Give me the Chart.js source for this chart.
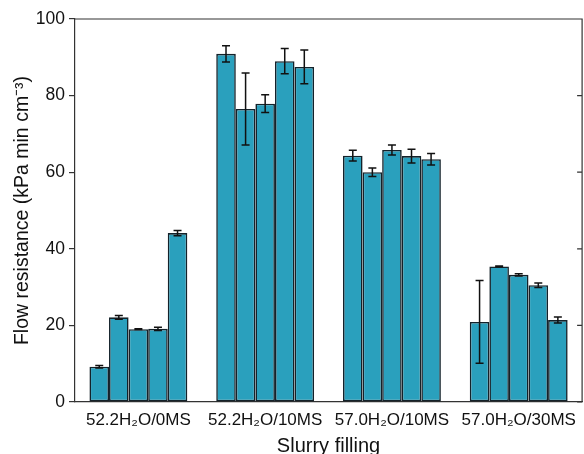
<html>
  <head>
    <title>Flow resistance</title>
    <style>
      body { margin: 0; background: #fff; }
    </style>
  </head>
  <body>
    <canvas id="myChart" width="584" height="454"></canvas>
  </body>
</html>

<script src="https://cdn.jsdelivr.net/npm/chart.js"></script>
<script>
  // slurry groups on the x axis
  var categories = ['52.2H\u2082O/0MS', '52.2H\u2082O/10MS', '57.0H\u2082O/10MS', '57.0H\u2082O/30MS'];

  // five repeat bars per group (values and +/- error)
  var mean0MS = [9.2, 22.1, 19.0, 19.1, 44.1];
  var err0MS = [0.3, 0.5, 0.1, 0.4, 0.7];
  var mean10MS = [90.9, 76.5, 77.9, 89.0, 87.5];
  var err10MS = [2.1, 9.4, 2.3, 3.3, 4.4];
  var mean57_10MS = [64.3, 60.0, 65.8, 64.2, 63.4];
  var err57_10MS = [1.4, 1.1, 1.3, 1.8, 1.5];
  var mean57_30MS = [20.9, 35.4, 33.2, 30.5, 21.4];
  var err57_30MS = [10.8, 0.1, 0.3, 0.6, 0.8];

  var yTicks = [0, 20, 40, 60, 80, 100];

  var groupMeans = [mean0MS, mean10MS, mean57_10MS, mean57_30MS];
  var groupErrs = [err0MS, err10MS, err57_10MS, err57_30MS];

  var barColor = '#2aa0bd';
  var edgeColor = '#14222a';

  var datasets = [];
  for (var i = 0; i < 5; i++) {
    datasets.push({
      label: 'run ' + (i + 1),
      data: groupMeans.map(function (g) { return g[i]; }),
      errors: groupErrs.map(function (g) { return g[i]; }),
      backgroundColor: barColor,
      borderColor: edgeColor,
      borderWidth: 1.6,
      borderSkipped: false,
      categoryPercentage: 0.772,
      barPercentage: 1.0
    });
  }

  // error bars + frame with inward right ticks
  const errorBars = {
    id: 'errorBars',
    afterDatasetsDraw(chart) {
      const ctx = chart.ctx;
      const y = chart.scales.y;
      ctx.save();
      ctx.strokeStyle = '#111';
      ctx.lineWidth = 1.5;
      chart.data.datasets.forEach(function (ds, di) {
        const meta = chart.getDatasetMeta(di);
        meta.data.forEach(function (bar, j) {
          const v = ds.data[j], e = ds.errors[j];
          const yHi = y.getPixelForValue(v + e);
          const yLo = y.getPixelForValue(v - e);
          ctx.beginPath();
          ctx.moveTo(bar.x, yHi); ctx.lineTo(bar.x, yLo);
          ctx.moveTo(bar.x - 4, yHi); ctx.lineTo(bar.x + 4, yHi);
          ctx.moveTo(bar.x - 4, yLo); ctx.lineTo(bar.x + 4, yLo);
          ctx.stroke();
        });
      });
      const a = chart.chartArea;
      ctx.strokeStyle = '#333';
      ctx.lineWidth = 1.2;
      ctx.beginPath();
      ctx.moveTo(a.left, a.top); ctx.lineTo(a.right, a.top);
      ctx.lineTo(a.right, a.bottom);
      yTicks.forEach(function (t) {
        const py = y.getPixelForValue(t);
        ctx.moveTo(a.right, py); ctx.lineTo(a.right - 5, py);
      });
      ctx.stroke();
      ctx.restore();
    }
  };

  const ctx = document.getElementById('myChart').getContext('2d');
  const myChart = new Chart(ctx, {
    type: 'bar',
    data: { labels: categories, datasets: datasets },
    plugins: [errorBars],
    options: {
      responsive: false,
      animation: false,
      layout: { padding: { top: 19, right: 1, left: 0, bottom: 0 } },
      plugins: {
        legend: { display: false },
        tooltip: { enabled: false }
      },
      scales: {
        x: {
          grid: { display: false, drawTicks: false },
          border: { color: '#333', width: 1.2 },
          ticks: { color: '#111', font: { family: 'Liberation Sans', size: 17 }, padding: 8 },
          title: { display: true, text: 'Slurry filling', color: '#111', font: { family: 'Liberation Sans', size: 20 }, padding: { top: 4, bottom: -4 } },
          afterFit: function (s) { s.height = 52; }
        },
        y: {
          min: 0,
          max: 100,
          afterBuildTicks: function (s) { s.ticks = yTicks.map(function (v) { return { value: v }; }); },
          grid: { drawOnChartArea: false, drawTicks: true, tickLength: 6, color: '#333', lineWidth: 1.2 },
          border: { color: '#333', width: 1.2 },
          ticks: { color: '#111', font: { family: 'Liberation Sans', size: 17.5 }, padding: 4 },
          title: { display: true, text: 'Flow resistance (kPa min cm\u207B\u00B3)', color: '#111', font: { family: 'Liberation Sans', size: 19.5 }, padding: { top: 11, bottom: 2 } },
          afterFit: function (s) { s.width = 75; }
        }
      }
    }
  });
</script>
